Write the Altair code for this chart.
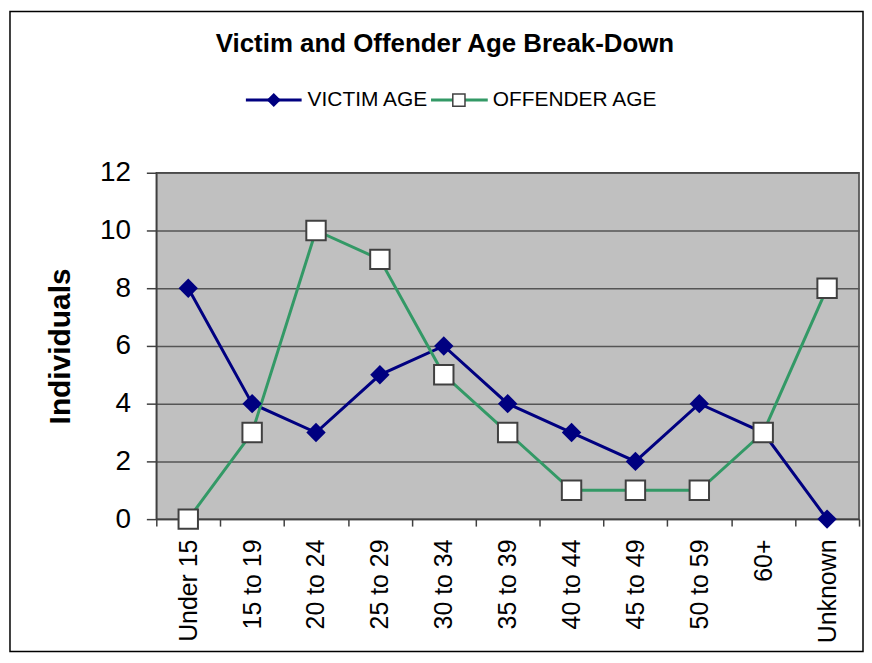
import altair as alt
import pandas as pd

categories = ["Under 15", "15 to 19", "20 to 24", "25 to 29", "30 to 34", "35 to 39",
              "40 to 44", "45 to 49", "50 to 59", "60+", "Unknown"]
victim = [8, 4, 3, 5, 6, 4, 3, 2, 4, 3, 0]
offender = [0, 3, 10, 9, 5, 3, 1, 1, 1, 3, 8]
series_names = ["VICTIM AGE", "OFFENDER AGE"]
y_ticks = [0, 2, 4, 6, 8, 10, 12]

rows = []
for i, c in enumerate(categories):
    rows.append({"cat": c, "series": series_names[0], "value": victim[i]})
    rows.append({"cat": c, "series": series_names[1], "value": offender[i]})
df = pd.DataFrame(rows)

W, H = 706, 348
FONT = "Liberation Sans"

x_enc = alt.X("cat:N", sort=categories,
              scale=alt.Scale(type="band", paddingInner=0, paddingOuter=0),
              axis=alt.Axis(title=None, labelAngle=-90, labelAlign="right", labelBaseline="middle",
                            labelFontSize=25, labelFont=FONT, labelColor="black",
                            tickBand="extent", tickSize=7, tickColor="#404040", tickWidth=1.5,
                            domainColor="#404040", domainWidth=1.5, labelPadding=13, grid=False))
y_enc = alt.Y("value:Q", scale=alt.Scale(domain=[0, 12], nice=False),
              axis=alt.Axis(values=y_ticks, title="Individuals", titleFontSize=30, titleFont=FONT,
                            titleFontWeight="bold", titleColor="black", titlePadding=24,
                            labelFontSize=28, labelFont=FONT, labelColor="black", labelPadding=16,
                            tickSize=10, tickColor="#404040", tickWidth=1.5,
                            domainColor="#404040", domainWidth=1.5,
                            grid=True, gridColor="#555555", gridWidth=1.5))

color_scale = alt.Scale(domain=series_names, range=["#000080", "#339966"])

lines = alt.Chart(df).mark_line(strokeWidth=3).encode(
    x=x_enc, y=y_enc,
    color=alt.Color("series:N", scale=color_scale, legend=None),
    detail="series:N",
)

victim_pts = alt.Chart(df[df.series == series_names[0]]).mark_point(
    shape="diamond", filled=True, color="#000080", size=380, opacity=1
).encode(x=x_enc, y=y_enc)

offender_pts = alt.Chart(df[df.series == series_names[1]]).mark_point(
    shape="square", filled=True, fill="white", stroke="#404040", strokeWidth=2, size=380, opacity=1
).encode(x=x_enc, y=y_enc)

one = pd.DataFrame({"d": [0]})

border = alt.Chart(one).mark_rect(fill=None, stroke="black", strokeWidth=1.5).encode(
    x=alt.value(-147), x2=alt.value(W + 4), y=alt.value(-162), y2=alt.value(H + 133))

title = alt.Chart(one).mark_text(text="Victim and Offender Age Break-Down", font=FONT,
                                 fontSize=26, fontWeight="bold", color="black",
                                 align="center", baseline="middle").encode(
    x=alt.value(290), y=alt.value(43 - 172))

leg_y = 99 - 172
leg_v_line = alt.Chart(one).mark_rule(color="#000080", strokeWidth=3).encode(
    x=alt.value(247 - 157), x2=alt.value(303 - 157), y=alt.value(leg_y))
leg_v_pt = alt.Chart(one).mark_point(shape="diamond", filled=True, color="#000080",
                                     size=200, opacity=1).encode(
    x=alt.value(275 - 157), y=alt.value(leg_y))
leg_v_txt = alt.Chart(one).mark_text(text=series_names[0], font=FONT, fontSize=21,
                                     color="black", align="left", baseline="middle").encode(
    x=alt.value(309 - 157), y=alt.value(leg_y))
leg_o_line = alt.Chart(one).mark_rule(color="#339966", strokeWidth=3).encode(
    x=alt.value(433 - 157), x2=alt.value(490 - 157), y=alt.value(leg_y))
leg_o_pt = alt.Chart(one).mark_point(shape="square", filled=True, fill="white", stroke="#404040",
                                     strokeWidth=1.5, size=150, opacity=1).encode(
    x=alt.value(461 - 157), y=alt.value(leg_y))
leg_o_txt = alt.Chart(one).mark_text(text=series_names[1], font=FONT, fontSize=21,
                                     color="black", align="left", baseline="middle").encode(
    x=alt.value(495 - 157), y=alt.value(leg_y))

chart = alt.layer(
    lines, victim_pts, offender_pts, border, title,
    leg_v_line, leg_v_pt, leg_v_txt, leg_o_line, leg_o_pt, leg_o_txt
).properties(
    width=W, height=H,
    autosize=alt.AutoSizeParams(type="none"),
    padding={"left": 149, "top": 164, "right": 5, "bottom": 135},
    background="white",
).configure_view(fill="#C0C0C0", stroke="#404040", strokeWidth=1.5)

chart.save("out.html", embed_options={"renderer": "svg", "actions": False})
